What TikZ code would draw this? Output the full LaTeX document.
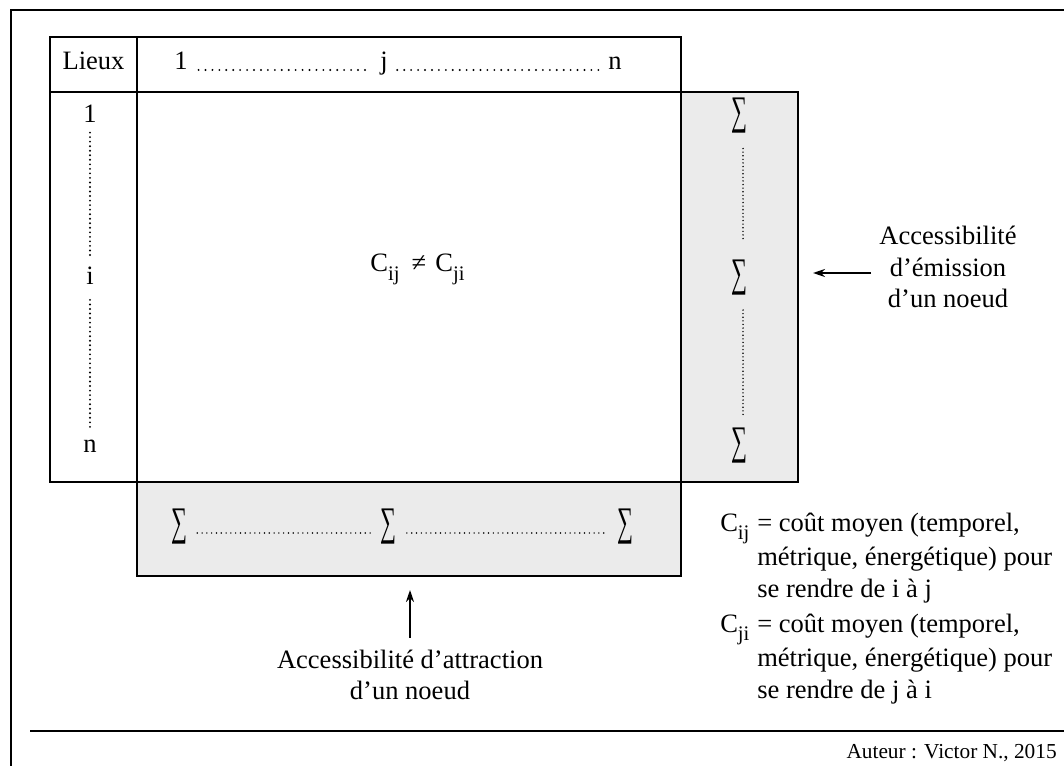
\documentclass[tikz,border=0pt]{standalone}
\usepackage{graphicx}
\usepackage{fontspec}
\setmainfont{Liberation Serif}
\usetikzlibrary{arrows.meta}
\newcommand{\figfont}{\fontsize{19.9}{23.6}\selectfont}
\newcommand{\sbs}[1]{\raisebox{-0.32em}{\fontsize{15.5}{15.5}\selectfont #1}}
\newcommand{\sumglyph}{\scalebox{0.58}[1.05]{∑}}

\begin{document}
\begin{tikzpicture}[
  x=0.75pt, y=-0.75pt,
  outer/.style={line width=1.6pt},
  tabline/.style={draw=black, line width=1.8pt},
  sumbox/.style={draw=black, fill=black!8, line width=1.6pt},
  lbl/.style={font=\figfont, inner sep=0pt, anchor=base},
  sumsym/.style={font=\fontsize{29}{29}\selectfont, inner sep=0pt},
  dotrow/.style={line width=1.6pt, dash pattern=on 0pt off 5.2pt, line cap=round},
  dotfine/.style={line width=1.2pt, dash pattern=on 0pt off 2.7pt, line cap=round},
  arr/.style={-{Stealth[length=9pt,width=6pt]}, line width=1.4pt}
]
\useasboundingbox (0,0) rectangle (1064,766);

% Outer frame and bottom rule
\draw[outer] (1064,10) -- (11,10) -- (11,766);
\draw[outer] (30,731) -- (1064,731);

% Sum boxes (drawn first, the table goes on top)
\draw[sumbox] (681,92) rectangle (798,482);
\draw[sumbox] (137,482) rectangle (681,576);

% Table
\draw[tabline] (50,37) rectangle (681,482);
\draw[tabline] (50,92) -- (681,92);
\draw[tabline] (137,37) -- (137,482);

% Header row
\node[lbl] (lieux) at (93.5,70) {Lieux};
\node[lbl] (h1) at (181,70) {1};
\node[lbl] (hj) at (384,70) {j};
\node[lbl] (hn) at (615,70) {n};
\draw[dotrow, shorten <=8pt, shorten >=7pt] (h1.base east) -- (hj.base west);
\draw[dotrow, shorten <=7pt, shorten >=7pt] (hj.base east) -- (hn.base west);

% Row labels
\node[lbl] (r1) at (90,123) {1};
\node[lbl] (ri) at (90,285) {i};
\node[lbl] (rn) at (90,453) {n};
\draw[dotrow, dash pattern=on 0pt off 3.4pt, shorten <=7pt, shorten >=7pt] (r1.south) -- (ri.north);
\draw[dotrow, dash pattern=on 0pt off 3.4pt, shorten <=11pt, shorten >=8pt] (ri.south) -- (rn.north);

% Costs
\node[lbl] (cost) at (417.5,272) {C\sbs{ij}\hspace{0.45em}≠\hspace{0.35em}C\sbs{ji}};

% Emission sums (right column)
\node[sumsym] (sr1) at (739,116) {\sumglyph};
\node[sumsym] (sr2) at (739,277.5) {\sumglyph};
\node[sumsym] (sr3) at (739,446) {\sumglyph};
\draw[dotfine, shorten <=11pt, shorten >=14pt] ([xshift=3pt]sr1.south) -- ([xshift=3pt]sr2.north);
\draw[dotfine, shorten <=11pt, shorten >=8pt] ([xshift=3pt]sr2.south) -- ([xshift=3pt]sr3.north);

% Attraction sums (bottom row)
\node[sumsym] (sb1) at (179,527) {\sumglyph};
\node[sumsym] (sb2) at (388,527) {\sumglyph};
\node[sumsym] (sb3) at (625,527) {\sumglyph};
\draw[dotfine, dash pattern=on 0pt off 3.6pt, shorten <=7.5pt, shorten >=5pt] ([yshift=-4.5pt]sb1.east) -- ([yshift=-4.5pt]sb2.west);
\draw[dotfine, dash pattern=on 0pt off 3.6pt, shorten <=8pt, shorten >=7pt] ([yshift=-4.5pt]sb2.east) -- ([yshift=-4.5pt]sb3.west);

% Accessibility labels and arrows
\node[lbl] (emis) at (948,245) {\begin{tabular}[t]{@{}c@{}}Accessibilité\\d’émission\\d’un noeud\end{tabular}};
\coordinate (emtip) at (813,273);
\draw[arr, shorten <=6pt] (emis.west |- emtip) -- (emtip);

\node[lbl] (attr) at (410,668) {\begin{tabular}[t]{@{}c@{}}Accessibilité d’attraction\\d’un noeud\end{tabular}};
\coordinate (attip) at (410,590);
\draw[arr, shorten <=6pt] (attr.north) -- (attip);

% Legend
\node[lbl, anchor=base west] (legij) at (720,531) {\begin{tabular}[t]{@{}l@{}l@{}}\makebox[27.75pt][l]{C\sbs{ij}} & = coût moyen (temporel,\\ & métrique, énergétique) pour\\ & se rendre de i à j\end{tabular}};
\node[lbl, anchor=base west] (legji) at (720,632) {\begin{tabular}[t]{@{}l@{}l@{}}\makebox[27.75pt][l]{C\sbs{ji}} & = coût moyen (temporel,\\ & métrique, énergétique) pour\\ & se rendre de j à i\end{tabular}};

% Author
\node[lbl, anchor=base east, font=\fontsize{16}{19}\selectfont] (auteur) at (1057,758) {Auteur : Victor N., 2015};

\end{tikzpicture}
\end{document}
